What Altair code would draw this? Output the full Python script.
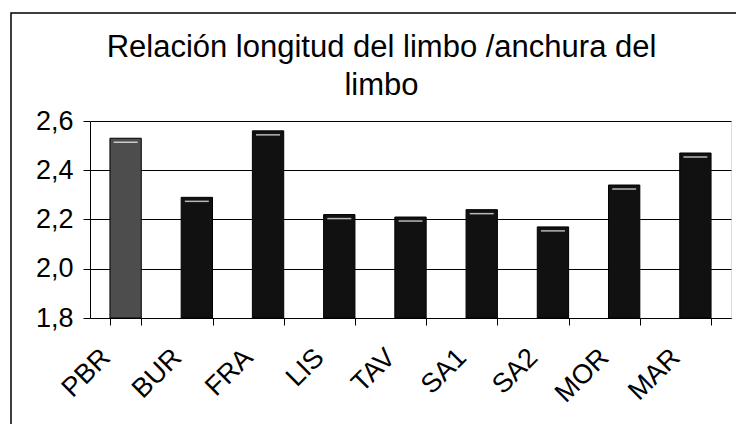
import altair as alt
import pandas as pd

categories = ["PBR", "BUR", "FRA", "LIS", "TAV", "SA1", "SA2", "MOR", "MAR"]
values = [2.53, 2.29, 2.56, 2.22, 2.21, 2.24, 2.17, 2.34, 2.47]
groups = ["ref", "otros", "otros", "otros", "otros", "otros", "otros", "otros", "otros"]
y_ticks = [1.8, 2.0, 2.2, 2.4, 2.6]
title_lines = ["Relación longitud del limbo /anchura del", "limbo"]

df = pd.DataFrame({"sitio": categories, "valor": values, "grupo": groups})
FONT = "Liberation Sans"

x = alt.X(
    "sitio:N", sort=categories, title=None,
    scale=alt.Scale(paddingInner=0.56, paddingOuter=0.28),
    axis=alt.Axis(labelAngle=-45, labelAlign="right", labelBaseline="middle",
                  tickBand="extent", tickSize=7, labelPadding=28, labelOffset=-20,
                  labelFontSize=27, labelFont=FONT, labelColor="black",
                  domainColor="black", tickColor="black", grid=False),
)
y = alt.Y(
    "valor:Q", title=None,
    scale=alt.Scale(domain=[1.8, 2.6], zero=False, nice=False),
    axis=alt.Axis(values=y_ticks,
                  labelExpr="replace(format(datum.value, '.1f'), '.', ',')",
                  tickSize=7, labelPadding=10, labelFontSize=27, labelFont=FONT,
                  labelColor="black", domainColor="black", tickColor="black",
                  grid=True, gridColor="black", gridOpacity=1, gridWidth=1),
)

bars = alt.Chart(df).mark_bar(stroke="black", strokeWidth=1).encode(
    x=x, y=y, y2=alt.datum(1.8),
    color=alt.Color("grupo:N", scale=alt.Scale(domain=["ref", "otros"],
                                               range=["#4d4d4d", "#111111"]),
                    legend=None),
)
shine = alt.Chart(df).mark_tick(color="white", thickness=1.5, size=24, yOffset=4).encode(
    x=x, y=y,
)
frame = alt.Chart(pd.DataFrame({"k": [0]})).mark_rect(
    filled=False, stroke="black", strokeWidth=1.5
).encode(x=alt.value(-79), x2=alt.value(700), y=alt.value(-108), y2=alt.value(400))

chart = alt.layer(frame, bars, shine).properties(
    width=641, height=197,
    title=alt.TitleParams(text=title_lines, fontSize=31, font=FONT, fontWeight="normal",
                          color="black", lineHeight=38, dx=-29, offset=-90, anchor="middle"),
    autosize=alt.AutoSizeParams(type="none"),
    padding={"left": 82, "top": 113, "right": 5, "bottom": 106},
).configure_view(stroke="black", strokeWidth=1.5).configure(background="white")

chart.save("out.html", embed_options={"renderer": "svg", "actions": False})
